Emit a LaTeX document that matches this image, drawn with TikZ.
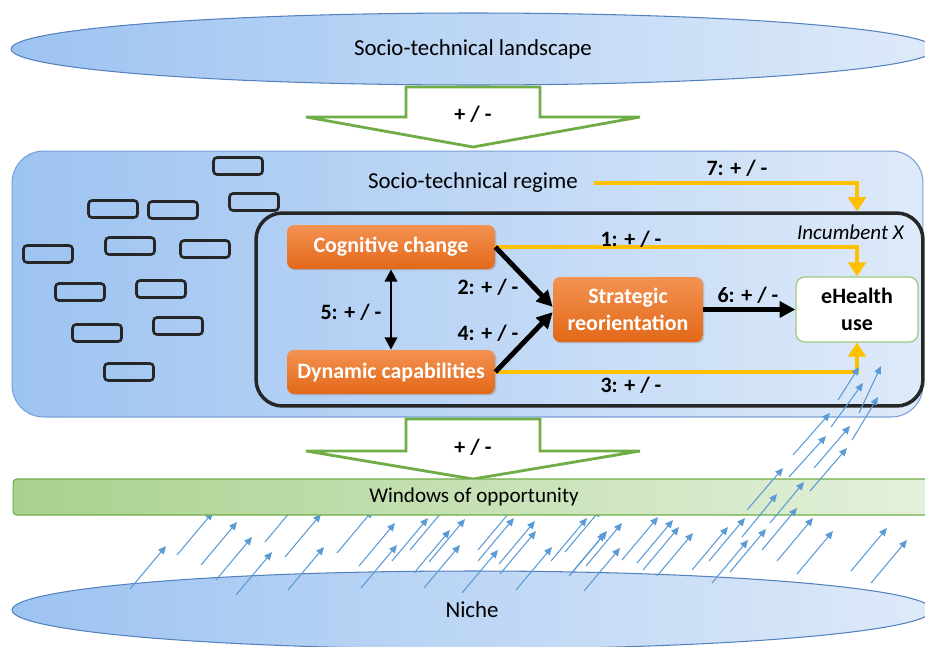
\documentclass[tikz,border=0pt]{standalone}
\usepackage{fontspec}
\setmainfont{Carlito}
\usepackage{tikz}
\usetikzlibrary{shapes.geometric,arrows.meta,shadows}

\definecolor{skyleft}{RGB}{157,195,241}
\definecolor{skyright}{RGB}{222,234,249}
\definecolor{skyline}{RGB}{84,130,190}
\definecolor{regline}{RGB}{120,160,212}
\definecolor{arrowgreen}{RGB}{112,173,71}
\definecolor{winleft}{RGB}{169,209,142}
\definecolor{winright}{RGB}{228,241,220}
\definecolor{orangetop}{RGB}{244,146,82}
\definecolor{orangebot}{RGB}{226,104,24}
\definecolor{goldline}{RGB}{255,192,0}
\definecolor{sparkblue}{RGB}{91,155,213}
\definecolor{boxline}{RGB}{38,38,38}

\begin{document}
\begin{tikzpicture}[x=0.02cm, y=-0.02cm,
        every node/.style={font=\fontsize{13}{15}\selectfont},
        layer/.style={ellipse, draw=skyline, line width=0.6pt, left color=skyleft, right color=skyright},
        regimebox/.style={draw=regline, line width=0.6pt, rounded corners=18pt, left color=skyleft, right color=skyright},
        incumbentbox/.style={draw=boxline, line width=2pt, rounded corners=15pt},
        slot/.style={draw=boxline, line width=1.5pt, rounded corners=2pt, minimum width=0.98cm, minimum height=0.34cm, inner sep=0pt},
        orangebox/.style={rounded corners=4pt, top color=orangetop, bottom color=orangebot, text=white, align=center,
            font=\fontsize{12.5}{15}\selectfont\bfseries,
            drop shadow={shadow xshift=0.8pt, shadow yshift=-0.8pt, opacity=0.35}},
        ehealthbox/.style={rounded corners=5pt, draw=winleft!80!arrowgreen, line width=0.7pt, fill=white, align=center,
            font=\fontsize{12.5}{15}\selectfont\bfseries},
        tag/.style={font=\fontsize{12.5}{15}\selectfont\bfseries},
        blockarrow/.style={draw=arrowgreen, line width=1.6pt, fill=white, line join=miter},
        goldarrow/.style={draw=goldline, line width=2.8pt, -{Triangle[length=8pt,width=10pt]}},
        bigarrow/.style={draw=black, line width=2.8pt, -{Triangle[length=9pt,width=9pt]}},
        twoway/.style={draw=black, line width=1.5pt, {Triangle[length=7pt,width=7pt]}-{Triangle[length=7pt,width=7pt]}},
        spark/.style={draw=sparkblue, line width=0.6pt, -{Triangle[length=4.5pt,width=4pt]}}]

    \useasboundingbox (0,0) rectangle (925,646);
    \clip (0,0) rectangle (925,646);

    % landscape level
    \node[layer, minimum width=18.48cm, minimum height=1.44cm] (landscape) at (473,49) {Socio-technical landscape};
    \draw[blockarrow] (406,87) -- (540,87) -- (540,117) -- (640,117) -- (473,147) -- (306,117) -- (406,117) -- cycle;
    \node[tag] (push_top) at (473,114) {+ / -};

    % regime level
    \node[regimebox, minimum width=18.22cm, minimum height=5.32cm] (regime) at (467.5,284) {};
    \node (regime_label) at (473,183) {Socio-technical regime};
    \foreach \px/\py [count=\k] in {238/166, 254/202, 113/209, 173/210, 130/246, 205/249,
            48/254, 80/292, 161/289, 97/333, 178/326, 129/372}
        \node[slot] (slot\k) at (\px,\py) {};

    % incumbent firm
    \node[incumbentbox, minimum width=13.34cm, minimum height=3.86cm] (incumbent) at (589.5,309.5) {};
    \node[anchor=east, font=\fontsize{12}{14}\selectfont\itshape] (incumbent_label) at (910,232) {Incumbent X};

    \node[orangebox, minimum width=4.16cm, minimum height=0.88cm] (cog_change) at (391,247) {Cognitive change};
    \node[orangebox, minimum width=4.16cm, minimum height=0.88cm] (dyn_cap) at (391,372) {Dynamic capabilities};
    \node[orangebox, minimum width=3cm, minimum height=1.3cm] (strat_reor) at (628,309.5) {Strategic\\reorientation};
    \node[ehealthbox, minimum width=2.44cm, minimum height=1.3cm] (ehealth) at (857,309.5) {eHealth\\use};

    \draw[goldarrow] ([xshift=0.2cm]regime_label.east) -| (ehealth.north |- incumbent.north);
    \draw[goldarrow] (cog_change.east) -| (ehealth.north);
    \draw[goldarrow] (dyn_cap.east) -| (ehealth.south);

    \path (cog_change.east) edge[bigarrow] ([yshift=1.5pt]strat_reor.west);
    \path (dyn_cap.east) edge[bigarrow] ([yshift=-1.5pt]strat_reor.west);
    \path (strat_reor) edge[bigarrow] (ehealth);
    \path (cog_change) edge[twoway] (dyn_cap);

    \node[tag] (lab_seven) at (737,168) {7: + / -};
    \node[tag] (lab_one) at (631,239) {1: + / -};
    \node[tag] (lab_three) at (631,385) {3: + / -};
    \node[tag] (lab_two) at (488,287) {2: + / -};
    \node[tag] (lab_four) at (488,333) {4: + / -};
    \node[tag] (lab_six) at (748,295) {6: + / -};
    \node[tag] (lab_five) at (351,312) {5: + / -};

    % windows and niche level
    \draw[blockarrow] (406,419) -- (540,419) -- (540,451) -- (640,451) -- (473,479) -- (306,451) -- (406,451) -- cycle;
    \node[tag] (push_bottom) at (473,447) {+ / -};

    \node[layer, minimum width=18.4cm, minimum height=1.56cm] (niche) at (472,610) {Niche};

    \foreach \tx/\ty in {166/546, 213/512, 237/522, 252/537, 272/552, 301/499, 321/514, 324/547, 373/510,
            395/523, 397/545, 428/518, 446/507, 450/530, 465/519, 460/545, 514/518, 498/550, 514/507,
            535/521, 536/531, 552/547, 587/518, 601/509, 607/531, 605/533, 622/523, 620/548, 658/517,
            673/520, 679/527, 693/533, 728/527, 745/518, 748/540, 766/529, 813/518, 833/531, 887/528, 907/540}
        \draw[spark] ([shift={(-36,43)}]\tx,\ty) -- (\tx,\ty);

    \node[draw=arrowgreen, line width=0.6pt, rounded corners=2pt, left color=winleft, right color=winright,
        minimum width=18.44cm, minimum height=0.72cm, font=\fontsize{12}{14}\selectfont] (windows) at (474,497) {Windows of opportunity};

    \foreach \ax/\ay/\bx/\by in {747/510/783/468, 742/537/777/494, 770/523/804/482, 762/550/797/508,
            810/491/847/448, 789/477/826/436, 814/468/850/426, 793/455/830/413,
            831/427/863/383, 838/400/859/367, 852/440/878/397, 859/413/881/366}
        \draw[spark] (\ax,\ay) -- (\bx,\by);
\end{tikzpicture}
\end{document}
